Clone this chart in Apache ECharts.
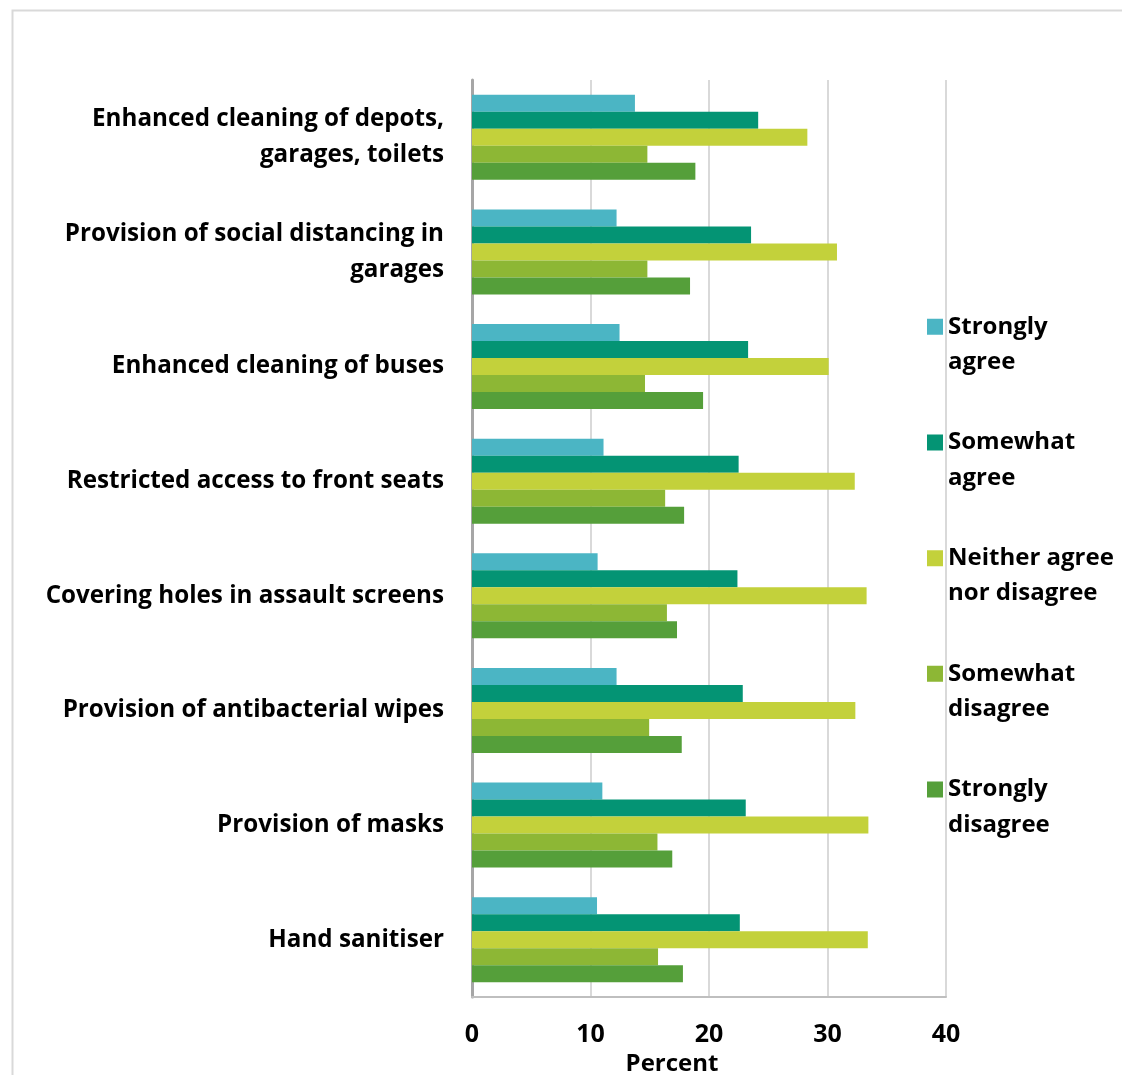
<!DOCTYPE html>
<html><head><meta charset="utf-8">
<script src="https://cdn.jsdelivr.net/npm/echarts@6/dist/echarts.min.js"></script>
<style>html,body{margin:0;padding:0;background:#fff}#c{width:1122px;height:1075px}</style>
</head><body><div id="c"></div><script>
const categories = [
  'Enhanced cleaning of depots,\ngarages, toilets',
  'Provision of social distancing in\ngarages',
  'Enhanced cleaning of buses',
  'Restricted access to front seats',
  'Covering holes in assault screens',
  'Provision of antibacterial wipes',
  'Provision of masks',
  'Hand sanitiser'
];
const seriesNames = ['Strongly agree', 'Somewhat agree', 'Neither agree nor disagree', 'Somewhat disagree', 'Strongly disagree'];
const legendLabels = ['Strongly\nagree', 'Somewhat\nagree', 'Neither agree\nnor disagree', 'Somewhat\ndisagree', 'Strongly\ndisagree'];
const stronglyAgree    = [13.75, 12.2, 12.45, 11.1, 10.6, 12.2, 11.0, 10.55];
const somewhatAgree    = [24.15, 23.55, 23.3, 22.5, 22.4, 22.85, 23.1, 22.6];
const neither          = [28.3, 30.8, 30.1, 32.3, 33.3, 32.35, 33.45, 33.4];
const somewhatDisagree = [14.8, 14.8, 14.6, 16.3, 16.45, 14.95, 15.65, 15.7];
const stronglyDisagree = [18.85, 18.4, 19.5, 17.9, 17.3, 17.7, 16.9, 17.8];
const xTicks = [0, 10, 20, 30, 40];
const colors = ['#4bb5c4', '#049474', '#c3d13b', '#8db735', '#559f3a'];
const values = [stronglyAgree, somewhatAgree, neither, somewhatDisagree, stronglyDisagree];

const FONT = '"Open Sans"';
const chart = echarts.init(document.getElementById('c'), null, {renderer: 'canvas'});
const iconPath = 'path://M0,0L16,0L16,16L0,16Z M0,51.4L0.01,51.4L0.01,51.5L0,51.5Z';
chart.setOption({
  animation: false,
  backgroundColor: '#fff',
  color: colors,
  graphic: [{
    type: 'rect', left: 10, top: 8, silent: true,
    shape: {width: 1300, height: 1300},
    style: {fill: 'none', stroke: '#d9d9d9', lineWidth: 2}
  }],
  grid: {left: 472, right: 176, top: 80, bottom: 78, containLabel: false, outerBoundsMode: 'none'},
  legend: {
    orient: 'vertical', left: 922, top: 304,
    itemWidth: 16, itemHeight: 51.5, itemGap: 44.7,
    icon: iconPath,
    data: seriesNames,
    formatter: function (n) { return legendLabels[seriesNames.indexOf(n)]; },
    textStyle: {fontFamily: FONT, fontWeight: 'bold', fontSize: 24, color: '#000', lineHeight: 35.5},
    itemStyle: {borderWidth: 0}
  },
  xAxis: {
    type: 'value', min: xTicks[0], max: xTicks[xTicks.length - 1], interval: 10,
    name: 'Percent', nameLocation: 'middle', nameGap: 52,
    nameTextStyle: {fontFamily: FONT, fontWeight: 'bold', fontSize: 24, color: '#000', padding: [0, 74, 0, 0]},
    axisLine: {show: true, lineStyle: {color: '#bfbfbf', width: 2}},
    axisTick: {show: false},
    axisLabel: {fontFamily: FONT, fontWeight: 'bold', fontSize: 25, color: '#000', margin: 25},
    splitLine: {show: true, lineStyle: {color: '#d9d9d9', width: 2}}
  },
  yAxis: {
    type: 'category', inverse: true, data: categories,
    axisLine: {show: true, lineStyle: {color: '#a6a6a6', width: 3}},
    axisTick: {show: false},
    axisLabel: {fontFamily: FONT, fontWeight: 'bold', fontSize: 24.2, color: '#000', lineHeight: 36, margin: 28, align: 'right'},
    splitLine: {show: false}
  },
  series: seriesNames.map(function (n, i) {
    return {
      name: n, type: 'bar', data: values[i],
      barWidth: 17, barGap: '0%',
      itemStyle: {color: colors[i]}
    };
  })
});
</script></body></html>
